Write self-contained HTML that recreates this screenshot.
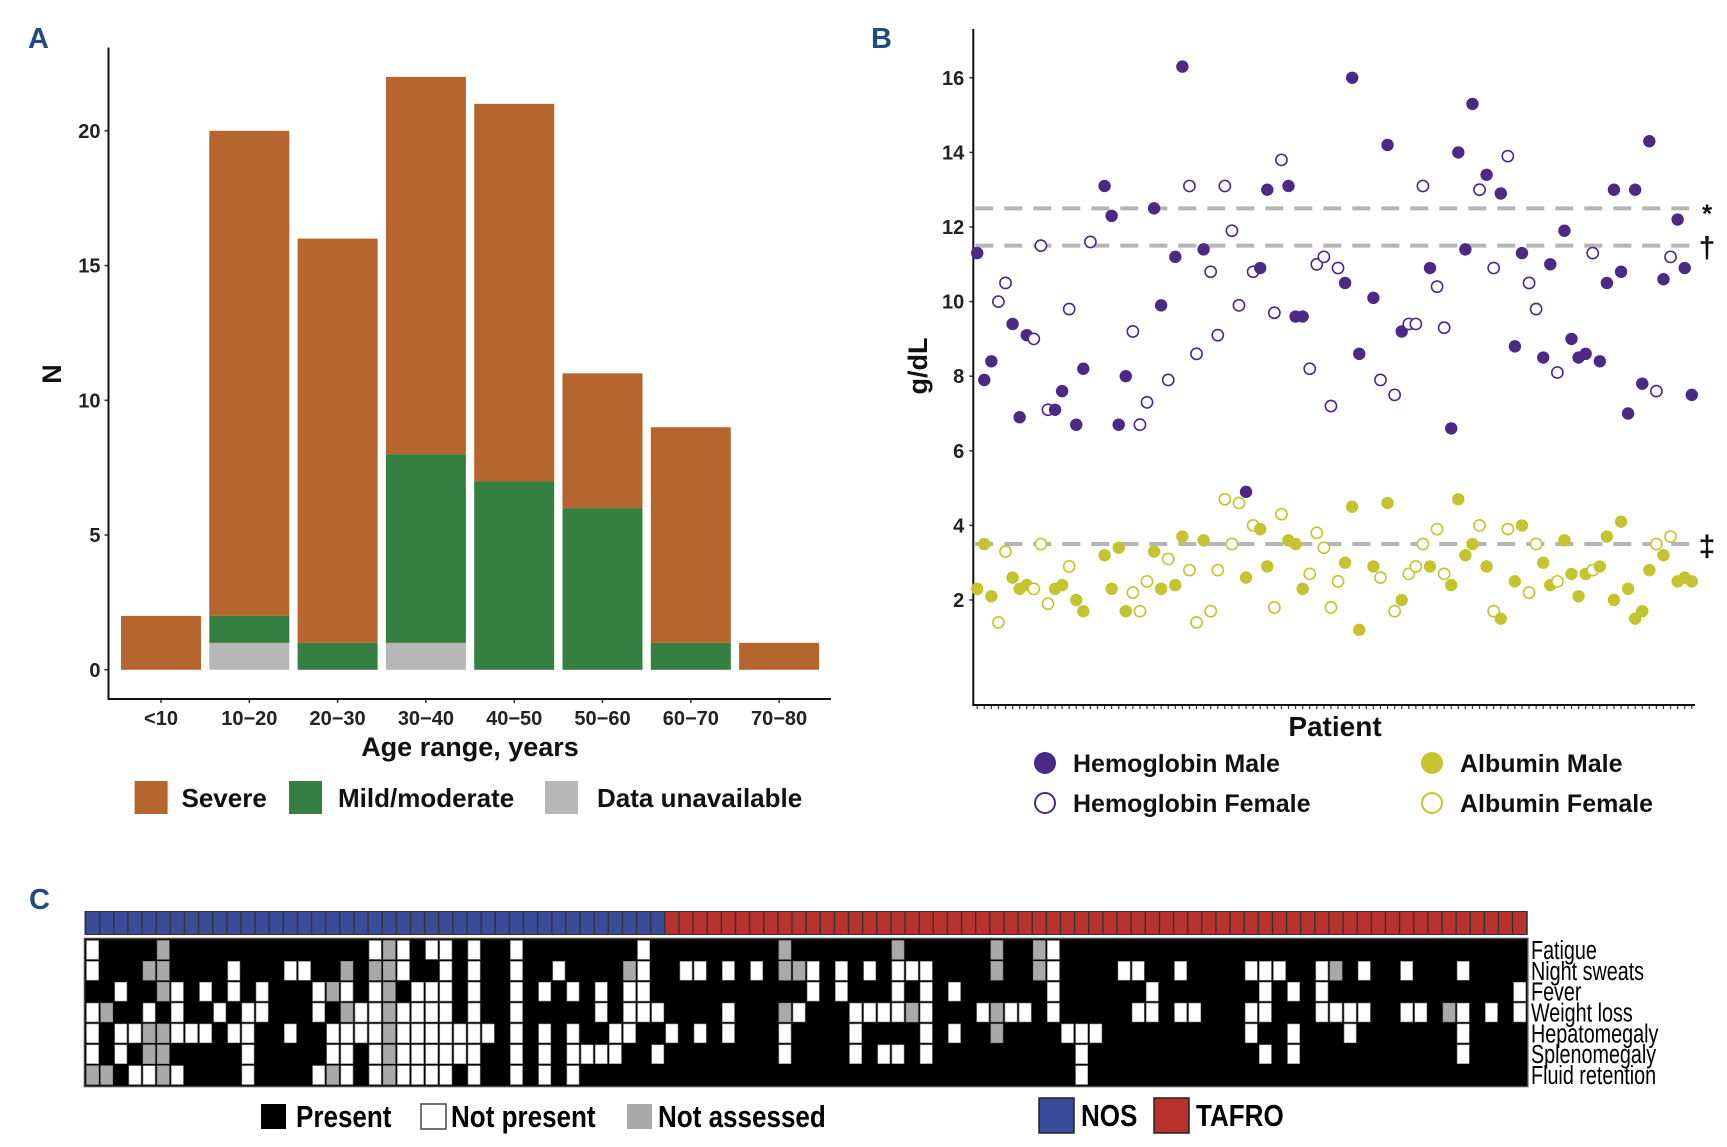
<!DOCTYPE html>
<html><head><meta charset="utf-8">
<style>
html,body{margin:0;padding:0;background:#fff;}
svg{display:block;font-family:"Liberation Sans",Arial,sans-serif;}
</style></head>
<body>
<svg id="fig" width="1727" height="1147" viewBox="0 0 1727 1147" xmlns="http://www.w3.org/2000/svg">
<g id="pa"></g>
<g id="pb"></g>
<g id="pc"></g>
</svg>
<script>
// ---------- Panel A data ----------
const ageCategories = ["<10","10\u221220","20\u221230","30\u221240","40\u221250","50\u221260","60\u221270","70\u221280"];
const severeCounts = [2,18,15,14,14,5,8,1];
const mildCounts = [0,1,1,7,7,6,1,0];
const unavailableCounts = [0,1,0,1,0,0,0,0];
const aTicks = [0,5,10,15,20];

// ---------- Panel B data ----------
const hbValues = [11.3,7.9,8.4,10.0,10.5,9.4,6.9,9.1,9.0,11.5,7.1,7.1,7.6,9.8,6.7,8.2,11.6,null,13.1,12.3,6.7,8.0,9.2,6.7,7.3,12.5,9.9,7.9,11.2,16.3,13.1,8.6,11.4,10.8,9.1,13.1,11.9,9.9,4.9,10.8,10.9,13.0,9.7,13.8,13.1,9.6,9.6,8.2,11.0,11.2,7.2,10.9,10.5,16.0,8.6,null,10.1,7.9,14.2,7.5,9.2,9.4,9.4,13.1,10.9,10.4,9.3,6.6,14.0,11.4,15.3,13.0,13.4,10.9,12.9,13.9,8.8,11.3,10.5,9.8,8.5,11.0,8.1,11.9,9.0,8.5,8.6,11.3,8.4,10.5,13.0,10.8,7.0,13.0,7.8,14.3,7.6,10.6,11.2,12.2,10.9,7.5];
const hbMale = [1,1,1,0,0,1,1,1,0,0,0,1,1,0,1,1,0,1,1,1,1,1,0,0,0,1,1,0,1,1,0,0,1,0,0,0,0,0,1,0,1,1,0,0,1,1,1,0,0,0,0,0,1,1,1,1,1,0,1,0,1,0,0,0,1,0,0,1,1,1,1,0,1,0,1,0,1,1,0,0,1,1,0,1,1,1,1,0,1,1,1,1,1,1,1,1,0,1,0,1,1,1];
const albValues = [2.3,3.5,2.1,1.4,3.3,2.6,2.3,2.4,2.3,3.5,1.9,2.3,2.4,2.9,2.0,1.7,null,null,3.2,2.3,3.4,1.7,2.2,1.7,2.5,3.3,2.3,3.1,2.4,3.7,2.8,1.4,3.6,1.7,2.8,4.7,3.5,4.6,2.6,4.0,3.9,2.9,1.8,4.3,3.6,3.5,2.3,2.7,3.8,3.4,1.8,2.5,3.0,4.5,1.2,null,2.9,2.6,4.6,1.7,2.0,2.7,2.9,3.5,2.9,3.9,2.7,2.4,4.7,3.2,3.5,4.0,2.9,1.7,1.5,3.9,2.5,4.0,2.2,3.5,3.0,2.4,2.5,3.6,2.7,2.1,2.7,2.8,2.9,3.7,2.0,4.1,2.3,1.5,1.7,2.8,3.5,3.2,3.7,2.5,2.6,2.5];
const albMale = [1,1,1,0,0,1,1,1,0,0,0,1,1,0,1,1,0,1,1,1,1,1,0,0,0,1,1,0,1,1,0,0,1,0,0,0,0,0,1,0,1,1,0,0,1,1,1,0,0,0,0,0,1,1,1,1,1,0,1,0,1,0,0,0,1,0,0,1,1,1,1,0,1,0,1,0,1,1,0,0,1,1,0,1,1,1,1,0,1,1,1,1,1,1,1,1,0,1,0,1,1,1];
const bTicks = [2,4,6,8,10,12,14,16];
const refLines = [12.5,11.5,3.5];
const refSymbols = ["*","\u2020","\u2021"];

// ---------- Panel C data ----------
const symptoms = ["Fatigue","Night sweats","Fever","Weight loss","Hepatomegaly","Splenomegaly","Fluid retention"];
const nPatients = 102;
const nNOS = 41;
const notPresent = [
 [0,20,22,24,25,27,30,39,68],
 [0,10,14,15,22,25,27,30,33,39,42,43,45,47,51,53,55,57,58,59,68,73,74,77,82,83,84,87,90,93,97],
 [2,6,8,10,12,16,18,20,23,24,25,27,30,32,34,36,38,39,51,53,57,59,61,68,75,83,85,87,101],
 [0,4,6,9,11,12,16,19,20,22,23,24,25,27,30,36,38,39,40,45,50,54,55,56,57,59,63,65,66,68,74,75,77,78,82,83,87,88,89,90,93,94,97,99,101],
 [0,2,3,6,7,8,10,11,14,17,18,19,20,22,23,24,25,26,27,28,30,32,34,37,38,41,43,45,49,54,59,61,69,70,71,82,85,89,97],
 [0,2,11,17,18,20,22,23,24,25,26,27,30,32,34,35,36,37,40,49,54,56,57,59,70,83,85,97],
 [3,4,6,11,16,18,20,22,23,24,25,27,30,32,34,70]
];
const notAssessed = [
 [5,21,49,57,64,67],
 [4,5,18,20,21,38,49,50,64,67,88],
 [5,17,21],
 [1,18,21,49,58,64,96],
 [4,5,21,64],
 [4,5,21],
 [0,1,5,17,21]
];

const NS="http://www.w3.org/2000/svg";
function mk(parent, tag, attrs, text){
  const e=document.createElementNS(NS,tag);
  for(const k in attrs) e.setAttribute(k,attrs[k]);
  if(text!==undefined) e.textContent=text;
  parent.appendChild(e); return e;
}

// ================= Panel A =================
(function(){
  const g=document.getElementById('pa');
  const x0=108.5, yZero=669.8, unit=26.95, step=88.3, bw=80, firstC=161;
  const yA=v=>yZero-v*unit;
  const xA=i=>firstC+i*step;
  let t=mk(g,'text',{x:28,y:48,'font-size':29,'font-weight':'bold',fill:'#234a82'},'A');
  
  
  ageCategories.forEach((c,i)=>{
    let base=0;
    const segs=[[unavailableCounts[i],'#b7b7b7','unavailable'],[mildCounts[i],'#357f40','mild'],[severeCounts[i],'#b5652d','severe']];
    segs.forEach(s=>{
      if(s[0]>0){
        const r=mk(g,'rect',{x:xA(i)-bw/2,y:yA(base+s[0]),width:bw,height:s[0]*unit,fill:s[1]});
        
        
        base+=s[0];
      }
    });
    mk(g,'line',{x1:xA(i),x2:xA(i),y1:699,y2:703,stroke:'#333','stroke-width':1.5});
    const tl=mk(g,'text',{x:xA(i),y:725,'text-anchor':'middle','font-size':20,'font-weight':'bold',fill:'#222'},c);
    
    
  });
  aTicks.forEach(v=>{
    mk(g,'line',{x1:x0-4,x2:x0,y1:yA(v),y2:yA(v),stroke:'#333','stroke-width':1.5});
    const tl=mk(g,'text',{x:x0-8,y:yA(v)+7,'text-anchor':'end','font-size':20,'font-weight':'bold',fill:'#222'},String(v));
    
    
  });
  const ax=mk(g,'path',{d:`M${x0} 47.5 V699 H831`,fill:'none',stroke:'#111','stroke-width':2});
  
  
  t=mk(g,'text',{x:470,y:756,'text-anchor':'middle','font-size':27,'font-weight':'bold',fill:'#111'},'Age range, years');
  
  
  t=mk(g,'text',{x:0,y:0,'text-anchor':'middle','font-size':27,'font-weight':'bold',fill:'#111',transform:'translate(61,374) rotate(-90)'},'N');
  
  
  const leg=[[134.6,'#b5652d',181.5,'Severe'],[289,'#357f40',338,'Mild/moderate'],[545,'#b7b7b7',597,'Data unavailable']];
  leg.forEach(l=>{
    const r=mk(g,'rect',{x:l[0],y:781,width:33,height:33,fill:l[1]});
    
    
    const tx=mk(g,'text',{x:l[2],y:807,'font-size':26,'font-weight':'bold',fill:'#111'},l[3]);
    
    
  });
})();

// ================= Panel B =================
(function(){
  const g=document.getElementById('pb');
  const x0=973.3, yTop=29, yBot=705, xEnd=1695;
  const yB=v=>600-(v-2)*37.3;
  const xB=i=>977.2+i*7.075;
  let t=mk(g,'text',{x:871,y:48,'font-size':29,'font-weight':'bold',fill:'#234a82'},'B');
  
  
  refLines.forEach((v,k)=>{
    const l=mk(g,'line',{x1:x0+2,x2:xEnd,y1:yB(v),y2:yB(v),stroke:'#b5b5b5','stroke-width':4,'stroke-dasharray':'18 11'});
    
    
    const s=mk(g,'text',{x:1707,y:yB(v)+(k===0?14:12),'text-anchor':'middle','font-size':k===0?26:30,'font-weight':'bold',fill:'#111'},refSymbols[k]);
    
    
  });
  for(let i=0;i<nPatients;i++){
    mk(g,'line',{x1:xB(i),x2:xB(i),y1:yBot,y2:yBot+4,stroke:'#333','stroke-width':1.2});
  }
  bTicks.forEach(v=>{
    mk(g,'line',{x1:x0-4,x2:x0,y1:yB(v),y2:yB(v),stroke:'#333','stroke-width':1.5});
    const tl=mk(g,'text',{x:x0-9,y:yB(v)+7,'text-anchor':'end','font-size':20,'font-weight':'bold',fill:'#222'},String(v));
    
    
  });
  const ax=mk(g,'path',{d:`M${x0} ${yTop} V${yBot} H${xEnd}`,fill:'none',stroke:'#111','stroke-width':2});
  
  
  const purple='#4b2a85', yellow='#c3c42f';
  hbValues.forEach((v,i)=>{
    if(v===null) return;
    const c=mk(g,'circle',{cx:xB(i),cy:yB(v),r:hbMale[i]?6.2:5.6,fill:hbMale[i]?purple:'#fff',stroke:purple,'stroke-width':hbMale[i]?0:1.6});
    
    
  });
  albValues.forEach((v,i)=>{
    if(v===null) return;
    const c=mk(g,'circle',{cx:xB(i),cy:yB(v),r:albMale[i]?6.2:5.6,fill:albMale[i]?yellow:'#fff',stroke:yellow,'stroke-width':albMale[i]?0:1.6});
    
    
  });
  t=mk(g,'text',{x:1335,y:736,'text-anchor':'middle','font-size':28,'font-weight':'bold',fill:'#111'},'Patient');
  
  
  t=mk(g,'text',{x:0,y:0,'text-anchor':'middle','font-size':27,'font-weight':'bold',fill:'#111',transform:'translate(927,366) rotate(-90)'},'g/dL');
  
  
  const leg=[[1045,763,purple,true,'Hemoglobin Male'],[1045,803,purple,false,'Hemoglobin Female'],[1432,763,yellow,true,'Albumin Male'],[1432,803,yellow,false,'Albumin Female']];
  leg.forEach(l=>{
    const c=mk(g,'circle',{cx:l[0],cy:l[1],r:l[3]?11:10,fill:l[3]?l[2]:'#fff',stroke:l[2],'stroke-width':l[3]?0:2});
    
    
    const tx=mk(g,'text',{x:l[0]+28,y:l[1]+9,'font-size':25,'font-weight':'bold',fill:'#111'},l[4]);
    
    
  });
})();

// ================= Panel C =================
(function(){
  const g=document.getElementById('pc');
  const x0=85.5, cw=14.13, hy=912, hh=22, ry0=939.5, rh=20.86;
  const xC=i=>x0+i*cw;
  let t=mk(g,'text',{x:29,y:909,'font-size':29,'font-weight':'bold',fill:'#234a82'},'C');
  
  
  mk(g,'rect',{x:x0-1,y:hy-1,width:nPatients*cw+2,height:hh+2,fill:'#333'});
  for(let i=0;i<nPatients;i++){
    const r=mk(g,'rect',{x:xC(i)+0.7,y:hy,width:cw-1.4,height:hh,fill:i<nNOS?'#3a4b9a':'#b9312c'});
    
    
  }
  const bg=mk(g,'rect',{x:x0-1,y:ry0-1,width:nPatients*cw+2,height:rh*7+2,fill:'#000',stroke:'#444','stroke-width':1.5});
  
  
  symptoms.forEach((s,r)=>{
    notPresent[r].forEach(i=>{
      const c=mk(g,'rect',{x:xC(i)+1,y:ry0+r*rh+1,width:cw-2,height:rh-2,fill:'#fff',stroke:'#888','stroke-width':0.6});
      
      
    });
    notAssessed[r].forEach(i=>{
      const c=mk(g,'rect',{x:xC(i)+1,y:ry0+r*rh+1,width:cw-2,height:rh-2,fill:'#a9a9a9',stroke:'#888','stroke-width':0.6});
      
      
    });
    const tl=mk(g,'text',{x:0,y:0,'font-size':26,fill:'#000',transform:`translate(1531,${ry0+r*rh+rh/2+9}) scale(0.76,1)`},s);
    
    
  });
  const leg=[[261,'#000',296,'Present',false],[421,'#fff',451,'Not present',true],[627,'#a9a9a9',658,'Not assessed',false]];
  leg.forEach(l=>{
    const r=mk(g,'rect',{x:l[0],y:1104,width:25,height:25,fill:l[1],stroke:l[4]?'#444':'none','stroke-width':1.5});
    
    
    const tx=mk(g,'text',{x:0,y:0,'font-size':31,'font-weight':'bold',fill:'#000',transform:`translate(${l[2]},1127) scale(0.84,1)`},l[3]);
    
    
  });
  const leg2=[[1039,'#3a4b9a',1081,'NOS'],[1154,'#b9312c',1196,'TAFRO']];
  leg2.forEach(l=>{
    const r=mk(g,'rect',{x:l[0],y:1098,width:35,height:35,fill:l[1],stroke:'#222','stroke-width':1.5});
    
    
    const tx=mk(g,'text',{x:0,y:0,'font-size':31,'font-weight':'bold',fill:'#000',transform:`translate(${l[2]},1126) scale(0.84,1)`},l[3]);
    
    
  });
})();
</script>
</body></html>
